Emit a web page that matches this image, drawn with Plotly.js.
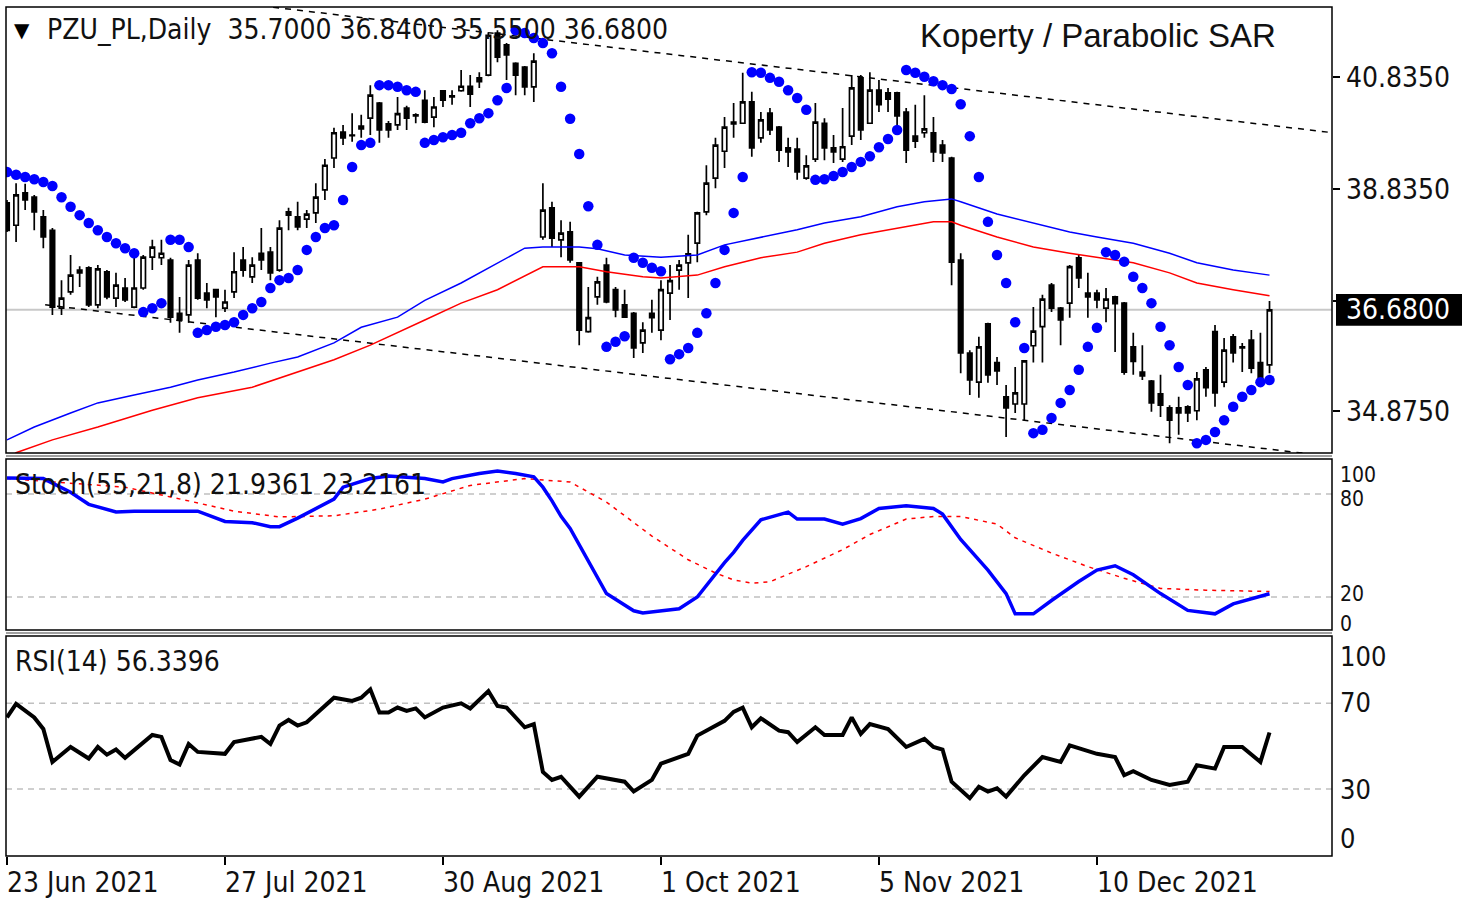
<!DOCTYPE html>
<html><head><meta charset="utf-8">
<script src="https://cdn.plot.ly/plotly-3.0.1.min.js"></script>
<style>html,body{margin:0;padding:0;background:#fff}#chart{width:1480px;height:898px}</style>
</head><body><div id="chart"></div>
<script>
// ---- price data (daily bars, index 0 = 23 Jun 2021) ----
const openP  = [38.59,38.19,38.77,38.69,38.34,38.10,36.71,37.00,37.39,37.43,36.77,37.36,36.89,37.07,36.73,37.07,37.62,37.61,37.57,36.62,
                36.59,37.57,36.98,37.04,36.71,37.00,37.57,37.27,37.69,37.71,37.39,38.43,38.34,38.30,38.41,38.82,39.39,39.85,39.80,39.96,
                40.10,40.37,40.00,39.98,40.28,40.16,40.42,40.12,40.59,40.50,40.59,40.67,40.82,40.87,41.62,41.41,41.08,41.01,40.66,37.98,
                38.50,37.93,38.07,37.52,36.29,36.91,37.48,37.04,36.77,36.62,36.09,36.62,36.32,36.98,37.39,37.52,37.87,38.43,39.03,39.51,
                40.03,40.01,40.39,39.75,40.19,39.94,39.57,39.55,39.03,39.37,40.01,39.57,39.37,39.78,40.82,40.01,40.60,40.55,40.55,40.21,
                39.78,39.84,39.84,39.62,39.39,37.57,35.91,35.39,36.43,35.74,35.13,35.00,35.00,36.04,36.38,37.12,36.71,36.80,37.61,36.98,
                36.98,36.71,36.91,36.80,36.02,35.57,35.41,35.18,34.93,34.93,34.95,34.88,35.61,36.29,35.39,36.20,36.02,36.14,35.74,35.70];
const highP  = [38.64,38.94,38.93,38.73,38.46,38.14,37.21,37.66,37.46,37.46,37.48,37.39,37.34,37.25,37.71,37.66,37.93,37.93,37.61,36.91,
                37.57,37.69,37.16,37.05,37.04,37.71,37.80,37.62,38.14,37.80,38.28,38.50,38.61,38.46,38.94,39.37,39.93,39.98,40.19,40.16,
                40.69,40.39,40.05,40.48,40.32,40.19,40.60,40.48,40.60,40.60,40.96,40.87,40.92,41.62,41.67,41.44,41.10,41.03,41.26,38.94,
                38.61,38.28,38.25,37.53,37.09,37.27,37.61,37.09,37.04,36.64,36.46,36.86,37.21,37.48,37.57,38.02,38.43,39.26,39.75,40.12,
                40.37,40.91,40.57,40.21,40.28,39.96,39.75,39.75,39.44,40.37,40.10,39.80,40.28,40.87,40.87,40.92,40.78,40.64,40.57,40.28,
                40.34,40.51,40.12,39.71,39.41,37.69,35.96,36.20,36.45,35.84,35.34,35.66,35.78,36.73,36.95,37.16,36.73,37.48,37.66,37.34,
                37.04,37.07,36.93,36.82,36.27,36.05,35.43,35.52,34.98,35.13,34.98,35.57,35.66,36.41,36.18,36.25,36.09,36.32,36.27,36.84];
const lowP   = [38.07,37.89,38.46,38.10,37.78,36.59,36.59,36.95,37.09,36.73,36.71,36.87,36.73,36.82,36.71,37.04,37.39,37.48,36.45,36.27,
                36.45,36.86,36.71,36.55,36.64,36.89,37.27,37.16,37.39,37.21,37.36,38.10,38.10,38.14,38.23,38.64,39.21,39.62,39.68,39.75,
                39.80,39.66,39.75,39.89,39.89,40.01,40.01,39.94,40.30,40.34,40.57,40.30,40.64,40.85,41.10,40.78,40.51,40.51,40.39,37.93,
                37.80,37.62,37.52,36.05,36.27,36.77,36.80,36.55,36.54,35.82,35.91,36.27,36.14,36.50,37.04,36.89,37.53,38.37,38.85,39.21,
                39.75,40.00,39.41,39.66,39.80,39.32,39.23,39.00,39.00,39.32,39.35,39.30,39.32,39.62,39.71,40.00,40.21,40.21,39.94,39.30,
                39.57,39.75,39.32,39.32,37.12,35.55,35.16,35.11,35.38,35.34,34.41,34.84,34.71,35.74,35.74,36.64,36.05,36.54,37.07,36.54,
                36.71,36.46,35.93,35.52,35.52,35.43,34.86,34.77,34.30,34.45,34.68,34.71,35.13,34.95,35.30,35.74,35.57,35.55,35.38,35.55];
const closeP = [38.10,38.73,38.64,38.43,37.98,36.73,36.89,37.30,37.34,36.77,37.41,36.91,37.12,36.86,37.07,37.62,37.80,37.69,36.55,36.50,
                37.48,36.89,36.86,36.91,36.82,37.36,37.39,37.48,37.57,37.34,38.14,38.37,38.16,38.39,38.69,39.26,39.84,39.75,39.79,39.91,
                40.51,39.89,39.89,40.18,40.10,40.14,40.03,40.30,40.42,40.48,40.67,40.53,40.75,41.58,41.19,41.23,40.87,40.66,41.12,38.46,
                37.96,38.05,37.57,36.32,36.54,37.18,36.82,36.68,36.55,36.00,36.32,36.54,37.04,37.20,37.48,37.68,38.41,38.94,39.62,39.94,
                40.00,40.39,39.57,40.07,39.89,39.53,39.50,39.14,39.25,40.03,39.57,39.50,39.59,40.64,39.89,40.60,40.34,40.44,40.14,39.53,
                39.69,39.91,39.50,39.48,37.53,35.91,35.43,36.02,35.52,35.59,34.93,35.20,35.77,36.30,36.87,36.71,36.50,37.45,37.25,36.91,
                36.86,36.87,36.79,35.57,35.76,35.50,35.02,34.98,34.71,34.84,34.84,35.45,35.29,35.20,35.96,35.91,36.00,35.64,35.40,36.68];
// Parabolic SAR, one value per bar
const sar = [39.14,39.09,39.05,39.01,38.96,38.89,38.69,38.52,38.37,38.23,38.10,37.98,37.87,37.78,37.69,36.64,36.71,36.80,37.93,37.93,
             37.80,36.27,36.32,36.38,36.41,36.46,36.59,36.71,36.82,37.07,37.21,37.25,37.39,37.75,37.98,38.14,38.19,38.64,39.23,39.62,
             39.66,40.69,40.69,40.66,40.60,40.57,39.66,39.71,39.76,39.80,39.84,40.01,40.10,40.19,40.42,40.64,41.67,41.62,41.53,41.44,
             41.26,40.66,40.09,39.46,38.53,37.84,36.02,36.11,36.21,37.61,37.52,37.43,37.37,35.80,35.89,36.00,36.27,36.62,37.16,37.75,
             38.41,39.05,40.92,40.91,40.82,40.75,40.60,40.46,40.25,39.00,39.01,39.07,39.14,39.23,39.32,39.42,39.58,39.73,39.89,40.96,
             40.91,40.84,40.76,40.69,40.62,40.35,39.78,39.05,38.25,37.66,37.16,36.46,36.00,34.48,34.54,34.75,35.02,35.25,35.61,36.02,
             36.36,37.71,37.66,37.54,37.27,37.07,36.80,36.38,36.05,35.66,35.34,34.30,34.36,34.50,34.71,34.95,35.13,35.25,35.39,35.43];
// moving averages, read at sampled bars
const maBlueIdx = [0,3,7,10,14,18,21,25,29,32,36,39,43,46,50,54,57,59,63,65,68,72,76,79,83,87,90,94,98,101,104,105,109,113,117,120,124,128,131,135,139];
const maBlue    = [34.36,34.59,34.84,35.02,35.16,35.30,35.43,35.57,35.73,35.84,36.09,36.37,36.55,36.85,37.16,37.51,37.78,37.80,37.80,37.77,37.66,37.62,37.66,37.84,37.98,38.11,38.23,38.34,38.52,38.61,38.66,38.61,38.39,38.23,38.07,37.98,37.87,37.69,37.52,37.39,37.30];
const maRedIdx  = [0,1,5,10,16,21,27,30,36,40,43,46,50,54,59,63,66,70,72,76,79,83,87,90,94,98,102,104,105,109,113,117,120,124,128,131,135,139];
const maRed     = [34.00,34.13,34.36,34.59,34.89,35.11,35.30,35.46,35.79,36.05,36.27,36.50,36.80,37.04,37.45,37.45,37.36,37.27,37.25,37.30,37.45,37.61,37.71,37.87,38.02,38.14,38.25,38.25,38.19,37.98,37.80,37.69,37.62,37.52,37.34,37.16,37.04,36.93];
// envelope trend lines (bar index, price)
const upperLineIdx = [29.3, 146];
const upperLineVal = [42.08, 39.84];
const lowerLineIdx = [4.2, 146];
const lowerLineVal = [36.77, 34.06];
const lastPrice = 36.68;
// Stochastic (55,21,8)
const stochIdx = [0,4,7,9,12,14,21,23,24,27,29,30,32,36,37,40,42,46,48,49,52,54,56,58,59,60,61,62,64,66,69,70,74,76,79,80,81,83,86,87,90,92,94,96,99,102,103,105,108,110,111,113,115,118,120,122,124,127,130,133,135,139];
const stochMain = [89.3,89,81,74,69.6,70,70,66,64,63.3,61,61,66,77,84,89,90.5,89,87,89,92,93.4,92,90,84,76,67,60,41,22,12,10.7,13.2,20,40,46,53,65,69.5,65.4,65.4,62.5,65.7,71.6,73.2,71.6,68.3,53.5,35.7,22,10.2,10.2,18,29,35.7,38.2,33,22,12.2,10.2,16,21.94];
const sigIdx = [0,13,20,25,30,36,41,46,51,57,62,66,71,75,78,80,82,84,88,92,95,99,102,105,109,111,115,119,123,127,132,139];
const stochSignal = [89,84,76,70,66.7,67.3,71.2,77,85,89,87,75.3,55.5,41.7,34,30,28.1,28.9,37.7,47.6,56.4,65.4,66.9,66.9,62.5,54.5,45.6,37.7,30.9,25,24,23.22];
// RSI(14)
const rsiIdx = [0,1,3,4,5,7,9,10,11,12,13,16,17,18,19,20,21,24,25,28,29,30,31,32,33,36,38,39,40,41,42,43,44,45,46,48,50,51,53,54,55,57,58,59,60,61,63,65,68,69,71,72,75,76,79,80,81,82,83,85,86,87,89,90,92,93,94,95,97,99,101,102,103,104,106,107,108,109,110,112,114,116,117,120,122,123,124,126,128,130,131,133,134,136,138,139];
const rsi = [63.4,69.7,63.4,58,42.6,49.6,44.2,49.6,46,48.4,44.5,55.2,54.3,43.5,41.4,51,47.3,46.4,51.9,54.3,51,59.6,62.2,59.6,61.1,72.6,71.1,72.6,76.5,65.7,65.7,68,66.4,67.6,63.4,68,70,67.6,75.7,68.7,68,58.8,60.3,37.9,34.2,35.7,26.4,35.7,33.4,28.8,34.2,41.8,46.4,54.9,61.8,66,68,58.8,63,57.2,56.5,51.9,58.8,55.2,55.2,63.4,55.7,60.3,58,49.6,53.4,49.6,48.4,33.4,25.7,31,28.8,30.3,26.4,36.4,44.9,42.6,50.3,46.4,44.9,36.4,38.3,34.2,31.9,33.4,41.1,39.5,49.6,49.6,42.6,56.34];
// axis labels
const tickIdx = [0,24,48,72,96,120];
const tickLabels = ['23 Jun 2021','27 Jul 2021','30 Aug 2021','1 Oct 2021','5 Nov 2021','10 Dec 2021'];
const priceTicks = [34.875,36.835,38.835,40.835];
const priceLabels = [[40.835,'40.8350'],[38.835,'38.8350'],[34.875,'34.8750']];
const stochLabels = [[91.0,'100'],[77.0,'80'],[22.0,'20'],[4.5,'0']];
const rsiLabels = [[91.6,'100'],[70.2,'70'],[29.6,'30'],[7.1,'0']];
const headerText = 'PZU_PL,Daily  35.7000 36.8400 35.5500 36.6800';
const stochText = 'Stoch(55,21,8) 21.9361 23.2161';
const rsiText = 'RSI(14) 56.3396';
const chartTitle = 'Koperty / Parabolic SAR';

// ---- layout helpers (pixel -> paper) ----
const L=6, R=1332, T=7, B=856;
const px = x => (x-L)/(R-L);
const py = y => (B-y)/(B-T);
const FONT = "'DejaVu Sans Condensed', 'DejaVu Sans', sans-serif";
const idx = openP.map((_, i) => i);

const traces = [
  {type:'scatter', mode:'lines', x:upperLineIdx, y:upperLineVal, line:{color:'#000', width:1.5, dash:'6px,6px'}, hoverinfo:'skip', xaxis:'x', yaxis:'y'},
  {type:'scatter', mode:'lines', x:lowerLineIdx, y:lowerLineVal, line:{color:'#000', width:1.5, dash:'6px,6px'}, hoverinfo:'skip', xaxis:'x', yaxis:'y'},
  {type:'scatter', mode:'lines', x:maBlueIdx, y:maBlue, line:{color:'#0000ff', width:1.5}, hoverinfo:'skip', xaxis:'x', yaxis:'y'},
  {type:'scatter', mode:'lines', x:maRedIdx, y:maRed, line:{color:'#ff0000', width:1.5}, hoverinfo:'skip', xaxis:'x', yaxis:'y'},
  {type:'candlestick', x:idx, open:openP, high:highP, low:lowP, close:closeP, xaxis:'x', yaxis:'y', whiskerwidth:0,
   increasing:{line:{color:'#000', width:1.7}, fillcolor:'#ffffff'},
   decreasing:{line:{color:'#000', width:1.7}, fillcolor:'#000000'}, hoverinfo:'skip'},
  {type:'scatter', mode:'markers', x:idx, y:sar, marker:{color:'#0000ff', size:10.5, symbol:'circle'}, hoverinfo:'skip', xaxis:'x', yaxis:'y'},
  {type:'scatter', mode:'lines', x:sigIdx, y:stochSignal, line:{color:'#ff0000', width:1.5, dash:'4px,5px'}, hoverinfo:'skip', xaxis:'x', yaxis:'y2'},
  {type:'scatter', mode:'lines', x:stochIdx, y:stochMain, line:{color:'#0000ff', width:3.5}, hoverinfo:'skip', xaxis:'x', yaxis:'y2'},
  {type:'scatter', mode:'lines', x:rsiIdx, y:rsi, line:{color:'#000', width:4}, hoverinfo:'skip', xaxis:'x', yaxis:'y3'}
];

const shapes = [
  {type:'line', xref:'paper', yref:'y', x0:0, x1:1, y0:lastPrice, y1:lastPrice, line:{color:'#c8c8c8', width:2}, layer:'below'},
  {type:'line', xref:'paper', yref:'y2', x0:0, x1:1, y0:80, y1:80, line:{color:'#c0c0c0', width:1.5, dash:'6px,5px'}, layer:'below'},
  {type:'line', xref:'paper', yref:'y2', x0:0, x1:1, y0:20, y1:20, line:{color:'#c0c0c0', width:1.5, dash:'6px,5px'}, layer:'below'},
  {type:'line', xref:'paper', yref:'y3', x0:0, x1:1, y0:70, y1:70, line:{color:'#c0c0c0', width:1.5, dash:'6px,5px'}, layer:'below'},
  {type:'line', xref:'paper', yref:'y3', x0:0, x1:1, y0:30, y1:30, line:{color:'#c0c0c0', width:1.5, dash:'6px,5px'}, layer:'below'},
  {type:'rect', xref:'paper', yref:'paper', x0:0, x1:1, y0:py(453), y1:py(7), line:{color:'#000', width:1.5}},
  {type:'rect', xref:'paper', yref:'paper', x0:0, x1:1, y0:py(630), y1:py(459), line:{color:'#000', width:1.5}},
  {type:'rect', xref:'paper', yref:'paper', x0:0, x1:1, y0:py(856), y1:py(636), line:{color:'#000', width:1.5}},
  {type:'line', xref:'paper', yref:'paper', x0:0, x1:1, y0:py(456), y1:py(456), line:{color:'#a0a0a0', width:2}},
  {type:'line', xref:'paper', yref:'paper', x0:0, x1:1, y0:py(633), y1:py(633), line:{color:'#a0a0a0', width:2}},
  {type:'rect', xref:'paper', yref:'y', x0:px(1336), x1:px(1462), y0:lastPrice-0.285, y1:lastPrice+0.285, fillcolor:'#000', line:{width:0}}
];

const ann = [];
const A = (o) => ann.push(Object.assign({showarrow:false, font:{family:FONT, size:28, color:'#111'}}, o));
A({xref:'paper', yref:'paper', x:px(22), y:py(30), xanchor:'center', yanchor:'middle', text:'▼', font:{family:'DejaVu Sans', size:20, color:'#000'}});
A({xref:'paper', yref:'paper', x:px(45), y:py(30), xanchor:'left', yanchor:'middle', text:headerText.replace(/ /g,'&nbsp;')});
A({xref:'paper', yref:'paper', x:px(918), y:py(35), xanchor:'left', yanchor:'middle', text:chartTitle, font:{family:"'Liberation Sans', Arial, sans-serif", size:33, color:'#111'}});
A({xref:'paper', yref:'paper', x:px(13), y:py(484), xanchor:'left', yanchor:'middle', text:stochText});
A({xref:'paper', yref:'paper', x:px(13), y:py(661), xanchor:'left', yanchor:'middle', text:rsiText});
priceLabels.forEach(([v,t]) => A({xref:'paper', yref:'y', x:px(1344), y:v, xanchor:'left', yanchor:'middle', text:t}));
A({xref:'paper', yref:'y', x:px(1344), y:lastPrice, xanchor:'left', yanchor:'middle', text:'36.6800', font:{family:FONT, size:28, color:'#fff'}});
stochLabels.forEach(([v,t]) => A({xref:'paper', yref:'y2', x:px(1338), y:v, xanchor:'left', yanchor:'middle', text:t, font:{family:FONT, size:21, color:'#111'}}));
rsiLabels.forEach(([v,t]) => A({xref:'paper', yref:'y3', x:px(1338), y:v, xanchor:'left', yanchor:'middle', text:t, font:{family:FONT, size:27, color:'#111'}}));
tickIdx.forEach((v,i) => A({xref:'x', yref:'paper', x:v, y:py(882), xanchor:'left', yanchor:'middle', xshift:-2, text:tickLabels[i]}));

const axY = {showgrid:false, zeroline:false, showticklabels:false, side:'right', anchor:'x', fixedrange:true, showline:false};
const layout = {
  width:1480, height:898,
  margin:{l:L, r:1480-R, t:T, b:898-B, pad:0},
  paper_bgcolor:'#ffffff', plot_bgcolor:'#ffffff', showlegend:false,
  xaxis:{range:[-0.11, 145.88], showgrid:false, zeroline:false, showline:false, tickmode:'array', tickvals:tickIdx,
         showticklabels:false, ticks:'outside', ticklen:8, tickwidth:1.5, tickcolor:'#000', anchor:'y3',
         rangeslider:{visible:false}, fixedrange:true},
  yaxis:Object.assign({}, axY, {domain:[py(453), 1], range:[34.126, 42.084], tickmode:'array', tickvals:priceTicks, ticks:'outside', ticklen:7, tickwidth:1.5, tickcolor:'#000'}),
  yaxis2:Object.assign({}, axY, {domain:[py(630), py(459)], range:[0.8, 100.4], ticks:''}),
  yaxis3:Object.assign({}, axY, {domain:[0, py(636)], range:[-1.3, 101.4], ticks:''}),
  shapes:shapes, annotations:ann
};
Plotly.newPlot('chart', traces, layout, {staticPlot:true, displayModeBar:false});
</script></body></html>
